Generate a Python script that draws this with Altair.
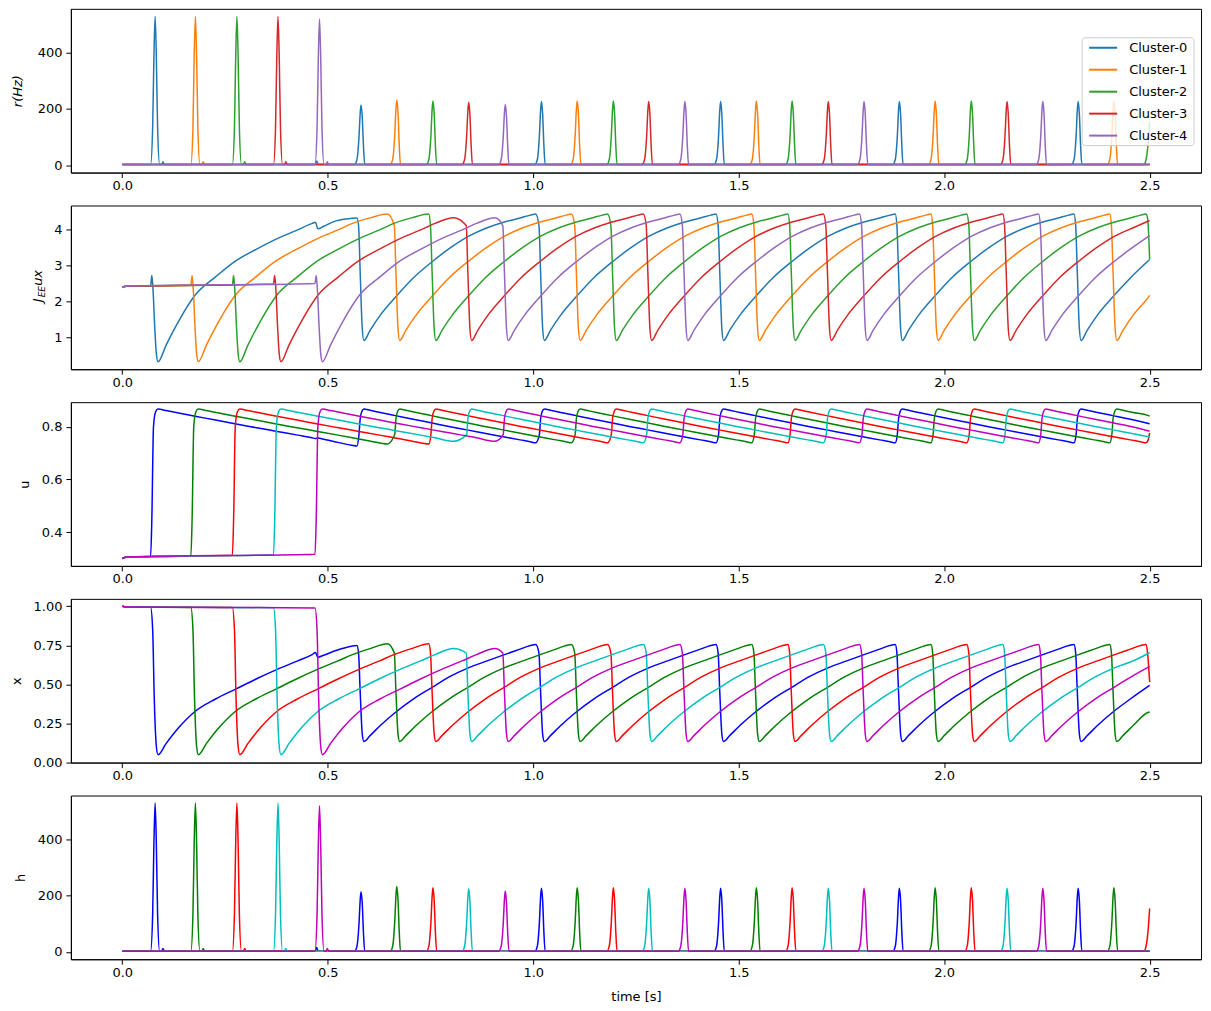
import altair as alt
import pandas as pd

CLUSTERS = ["Cluster-0", "Cluster-1", "Cluster-2", "Cluster-3", "Cluster-4"]
TAB10 = ["#1f77b4", "#ff7f0e", "#2ca02c", "#d62728", "#9467bd"]
BGRCM = ["#0000ff", "#008000", "#ff0000", "#00bfbf", "#bf00bf"]

# ---- burst (rate peak) times per cluster [s] and peak rates [Hz] ----
SPIKE_T = [
    [0.080, 0.581, 1.020, 1.456, 1.891, 2.326],
    [0.178, 0.668, 1.107, 1.543, 1.978, 2.413],
    [0.279, 0.756, 1.195, 1.630, 2.066],
    [0.379, 0.843, 1.281, 1.718, 2.153],
    [0.480, 0.932, 1.369, 1.805, 2.240],
]
SPIKE_PEAK = [
    [529, 214, 226, 226, 226, 226],
    [529, 232, 228, 228, 228, 228],
    [529, 228, 228, 228, 228],
    [529, 224, 226, 226, 226],
    [520, 216, 226, 226, 226],
]
R_BASE = 2.0
# burst shapes: offset from peak [s], fraction of peak
BURST1_DT = [-0.011, -0.006, -0.003, 0.0, 0.003, 0.006, 0.011]
BURST1_FR = [0.0, 0.25, 0.72, 1.0, 0.72, 0.25, 0.0]
BURST_DT = [-0.016, -0.010, -0.005, -0.002, 0.0, 0.003, 0.006, 0.009]
BURST_FR = [0.0, 0.08, 0.45, 0.86, 1.0, 0.80, 0.30, 0.0]
REBOUND_DT = [0.016, 0.019, 0.022]
REBOUND_V = [2.0, 12.0, 2.0]
R_EXTRA = [([0.469, 0.473, 0.477], [2.0, 15.0, 2.0]), ([], []), ([], []), ([], []), ([], [])]
R_TAIL = [([2.5], [2.0]), ([2.5], [2.0]),
          ([2.486, 2.490, 2.494, 2.497, 2.5], [2.0, 12.0, 45.0, 90.0, 154.0]),
          ([2.5], [2.0]), ([2.5], [2.0])]

# ---- synaptic state: baseline before first burst ----
BASE_T = [0.0, 0.01]
J_BASE = [2.40, 2.42]
U_BASE = [0.300, 0.306]
X_BASE = [1.000, 0.996]
J_PRE = [2.43, 2.45, 2.46, 2.48, 2.50]
U_PRE = [0.308, 0.310, 0.312, 0.314, 0.316]
X_PRE = [0.994, 0.993, 0.992, 0.991, 0.990]

# transitions around a burst: offsets from burst peak [s]
J_JUMP1 = ([-0.008, -0.005, -0.001, 0.003], [2.72, 2.30, 1.30, 0.55])
U_JUMP1 = ([-0.008, -0.004, 0.001], [0.45, 0.80, 0.856])
X_JUMP1 = ([-0.006, -0.002, 0.003], [0.85, 0.40, 0.10])
J_JUMP = ([-0.006, -0.002, 0.003], [4.10, 2.80, 1.25])
U_JUMP = ([-0.005, -0.002, 0.002], [0.77, 0.83, 0.858])
X_JUMP = ([-0.006, -0.002, 0.003], [0.70, 0.45, 0.18])
ANCHOR = 0.007  # recovery starts this long after the burst peak

# recovery after the first burst (offset from recovery start [s])
FT_DT = [0.0, 0.02, 0.05, 0.09, 0.14, 0.19, 0.24, 0.29, 0.34, 0.375, 0.42, 0.46]
J_FT = [0.33, 0.80, 1.45, 2.17, 2.68, 3.13, 3.45, 3.74, 3.98, 4.16, 4.32, 4.42]
U_FT = [0.867, 0.861, 0.852, 0.840, 0.825, 0.810, 0.796, 0.782, 0.768, 0.758, 0.745, 0.734]
X_FT = [0.047, 0.12, 0.22, 0.325, 0.405, 0.47, 0.535, 0.595, 0.65, 0.69, 0.73, 0.76]
# recovery in the periodic regime
ST_DT = [0.0, 0.015, 0.04, 0.077, 0.12, 0.166, 0.21, 0.254, 0.30, 0.342, 0.38, 0.405, 0.418]
J_ST = [0.92, 1.20, 1.62, 2.12, 2.65, 3.10, 3.48, 3.80, 4.04, 4.20, 4.31, 4.39, 4.42]
U_ST = [0.867, 0.862, 0.854, 0.842, 0.828, 0.814, 0.800, 0.787, 0.773, 0.761, 0.750, 0.743, 0.739]
X_ST = [0.133, 0.17, 0.235, 0.32, 0.405, 0.48, 0.55, 0.605, 0.65, 0.69, 0.725, 0.748, 0.755]

# cluster 0 is disturbed by the last initial burst
FIRST_CUT = [0.376, None, None, None, None]
EXTRA_T = [0.470, 0.476, 0.490, 0.520, 0.558, 0.571]
J_EXTRA = [(EXTRA_T, [4.19, 4.01, 4.08, 4.23, 4.30, 4.31])] + [([], [])] * 4
U_EXTRA = [(EXTRA_T, [0.755, 0.757, 0.752, 0.742, 0.730, 0.727])] + [([], [])] * 4
X_EXTRA = [(EXTRA_T, [0.703, 0.673, 0.686, 0.716, 0.744, 0.748])] + [([], [])] * 4

# values at the end of the run (t = 2.5 s)
J_TAIL = [([2.5], [3.16]), ([2.5], [2.17]), ([2.495, 2.5], [4.30, 3.17]), ([2.5], [4.24]), ([2.5], [3.82])]
U_TAIL = [([2.5], [0.811]), ([2.5], [0.840]), ([2.496, 2.5], [0.748, 0.777]), ([2.5], [0.761]), ([2.5], [0.783])]
X_TAIL = [([2.5], [0.492]), ([2.5], [0.322]), ([2.495, 2.5], [0.70, 0.514]), ([2.5], [0.702]), ([2.5], [0.614])]


def rate_series(k):
    pts = [(0.0, R_BASE)]
    for i, (ts, pk) in enumerate(zip(SPIKE_T[k], SPIKE_PEAK[k])):
        dts, frs = (BURST1_DT, BURST1_FR) if i == 0 else (BURST_DT, BURST_FR)
        pts += [(ts + d, R_BASE + f * (pk - R_BASE)) for d, f in zip(dts, frs)]
        if i == 0:
            pts += [(ts + d, v) for d, v in zip(REBOUND_DT, REBOUND_V)]
    pts += list(zip(*R_EXTRA[k]))
    pts += list(zip(*R_TAIL[k]))
    return sorted(pts)


def state_series(k, base_v, pre, jump1, jump, ft, st, extra, tail):
    pts = list(zip(BASE_T, base_v))
    spikes = SPIKE_T[k]
    tail_t, tail_v = tail[k]
    for i, ts in enumerate(spikes):
        if i == 0:
            pts.append((ts - 0.011, pre[k]))
            dts, vs = jump1
        else:
            dts, vs = jump
        pts += [(ts + d, v) for d, v in zip(dts, vs)]
        t0 = ts + ANCHOR
        limit = spikes[i + 1] - 0.008 if i + 1 < len(spikes) else tail_t[0] - 0.001
        tdt, tvv = (FT_DT, ft) if i == 0 else (ST_DT, st)
        for d, v in zip(tdt, tvv):
            if i == 0 and FIRST_CUT[k] is not None and d > FIRST_CUT[k]:
                continue
            if t0 + d < limit:
                pts.append((t0 + d, v))
        if i == 0:
            pts += list(zip(*extra[k]))
    pts += list(zip(tail_t, tail_v))
    return sorted(pts)


def frame(builder):
    rows = []
    for k, name in enumerate(CLUSTERS):
        for i, (t, v) in enumerate(builder(k)):
            rows.append({"cluster": name, "t": t, "v": v, "i": i})
    return pd.DataFrame(rows)


df_r = frame(rate_series)
df_j = frame(lambda k: state_series(k, J_BASE, J_PRE, J_JUMP1, J_JUMP, J_FT, J_ST, J_EXTRA, J_TAIL))
df_u = frame(lambda k: state_series(k, U_BASE, U_PRE, U_JUMP1, U_JUMP, U_FT, U_ST, U_EXTRA, U_TAIL))
df_x = frame(lambda k: state_series(k, X_BASE, X_PRE, X_JUMP1, X_JUMP, X_FT, X_ST, X_EXTRA, X_TAIL))

XTICKS = [0.0, 0.5, 1.0, 1.5, 2.0, 2.5]
W, H = 1132, 164


def panel(df, ytitle, ydom, yticks, yfmt, colors, legend=None, xtitle=None, italic=False, tpad=10):
    yaxis = dict(values=yticks, format=yfmt, grid=False, title=ytitle, titlePadding=tpad)
    if italic:
        yaxis["titleFontStyle"] = "italic"
    return alt.Chart(df).mark_line(strokeWidth=1.5, interpolate="monotone").encode(
        x=alt.X("t:Q", scale=alt.Scale(domain=[-0.125, 2.625], nice=False, zero=False),
                axis=alt.Axis(values=XTICKS, format=".1f", grid=False, title=xtitle)),
        y=alt.Y("v:Q", scale=alt.Scale(domain=ydom, nice=False, zero=False), axis=alt.Axis(**yaxis)),
        color=alt.Color("cluster:N", scale=alt.Scale(domain=CLUSTERS, range=colors), legend=legend),
        order=alt.Order("i:Q"),
    ).properties(width=W, height=H)


legend1 = alt.Legend(title=None, orient="none", legendX=1013, legendY=18, symbolType="stroke",
                     symbolSize=784, symbolStrokeWidth=2, labelFontSize=13, labelFont="DejaVu Sans",
                     labelColor="black", labelOffset=11, padding=6, rowPadding=-8)

p1_lines = panel(df_r, "r(Hz)", [-26.5, 556.0], [0, 200, 400], "d", TAB10, legend=legend1,
                 italic=True, tpad=13)
legend_box = alt.Chart(pd.DataFrame({"b": [0]})).mark_rect(
    fill="white", fillOpacity=0.8, stroke="#cccccc", strokeWidth=1, cornerRadius=3
).encode(x=alt.value(1013), x2=alt.value(1125), y=alt.value(29), y2=alt.value(137))
p1 = alt.layer(p1_lines, legend_box)

p2_lines = panel(df_j, None, [0.124, 4.656], [1, 2, 3, 4], "d", TAB10)
lab_main = pd.DataFrame({"s": ["J"]})
lab_sub = pd.DataFrame({"s": ["EE"]})
lab_tail = pd.DataFrame({"s": ["ux"]})
tJ = alt.Chart(lab_main).mark_text(angle=270, align="left", baseline="alphabetic", fontStyle="italic",
                                   fontSize=13, font="DejaVu Sans", color="black").encode(
    text="s:N", x=alt.value(-29), y=alt.value(97))
tEE = alt.Chart(lab_sub).mark_text(angle=270, align="left", baseline="alphabetic", fontStyle="italic",
                                   fontSize=9, font="DejaVu Sans", color="black").encode(
    text="s:N", x=alt.value(-26), y=alt.value(92))
tux = alt.Chart(lab_tail).mark_text(angle=270, align="left", baseline="alphabetic", fontStyle="italic",
                                    fontSize=13, font="DejaVu Sans", color="black").encode(
    text="s:N", x=alt.value(-29), y=alt.value(80.5))
p2 = alt.layer(p2_lines, tJ, tEE, tux)

p3 = panel(df_u, "u", [0.272, 0.893], [0.4, 0.6, 0.8], ".1f", BGRCM)
p4 = panel(df_x, "x", [-0.003, 1.048], [0.0, 0.25, 0.5, 0.75, 1.0], ".2f", BGRCM)
p5 = panel(df_r, "h", [-26.5, 556.0], [0, 200, 400], "d", BGRCM, xtitle="time [s]")

chart = alt.vconcat(p1, p2, p3, p4, p5, spacing=11).resolve_scale(color="independent").properties(
    padding={"left": 9, "top": 7, "right": 9, "bottom": 5}
).configure_view(stroke="black", strokeWidth=1).configure_axis(
    labelFont="DejaVu Sans", labelFontSize=13, labelColor="black",
    titleFont="DejaVu Sans", titleFontSize=13, titleFontWeight="normal", titleColor="black",
    tickColor="black", domainColor="black", tickSize=5, grid=False
).configure_axisX(labelPadding=2, titlePadding=11).configure_axisY(labelPadding=4)

chart.save("out.html", embed_options={"renderer": "svg", "actions": False})
